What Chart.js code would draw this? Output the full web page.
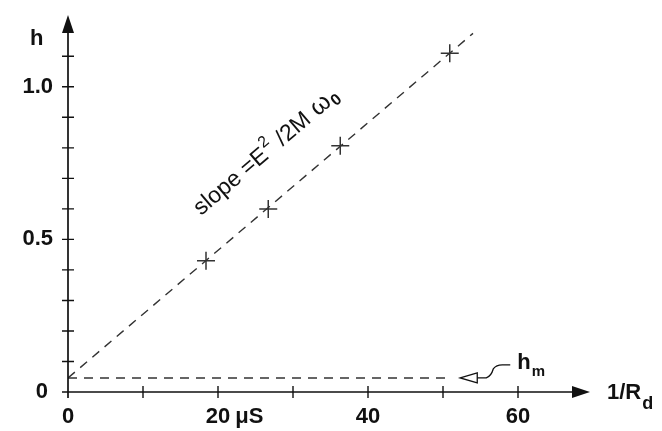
<!DOCTYPE html>
<html>
<head>
<meta charset="utf-8">
<script src="https://cdn.jsdelivr.net/npm/chart.js@4"></script>
<style>
  body { margin: 0; background: #fff; }
  canvas { display: block; }
</style>
</head>
<body>
<canvas id="chart" width="662" height="431"></canvas>
<script>
// measured points (1/Rd in µS, h)
var measX = [18.4, 26.7, 36.3, 50.9];
var measY = [0.43, 0.60, 0.807, 1.11];

// fitted straight line through the points
var fitX = [0, 54];
var fitY = [0.046, 1.175];

// h_m level
var hmX = [0, 51];
var hmY = [0.046, 0.046];

// axis ticks and labels
var xTicks = [10, 20, 30, 40, 50, 60];
var xLabelVals = [0, 20, 40, 60];
var xLabels = ["0", "20", "40", "60"];
var yTicks = [0.1, 0.2, 0.3, 0.4, 0.5, 0.6, 0.7, 0.8, 0.9, 1.0, 1.1];
var yLabelVals = [0, 0.5, 1.0];
var yLabels = ["0", "0.5", "1.0"];

function pts(xs, ys) {
    var out = [];
    for (var i = 0; i < xs.length; i++) out.push({ x: xs[i], y: ys[i] });
    return out;
}

var boldFont = 'bold 22px "Liberation Sans", Arial, sans-serif';
var ink = "#111";

// draws axes with arrows, ticks, labels and the annotations
var decor = {
    id: "decor",
    afterDraw: function (chart) {
        var ctx = chart.ctx;
        var xs = chart.scales.x, ys = chart.scales.y;
        var x0 = xs.getPixelForValue(0), y0 = ys.getPixelForValue(0);
        var xEnd = xs.getPixelForValue(69.6), yEnd = ys.getPixelForValue(1.235);
        ctx.save();
        ctx.strokeStyle = ink;
        ctx.fillStyle = ink;
        ctx.lineWidth = 1.7;

        // axis lines
        ctx.beginPath();
        ctx.moveTo(x0 - 6, y0); ctx.lineTo(xEnd - 10, y0);
        ctx.moveTo(x0, y0 + 6); ctx.lineTo(x0, yEnd + 10);
        ctx.stroke();
        // arrow heads
        ctx.beginPath();
        ctx.moveTo(xEnd, y0); ctx.lineTo(xEnd - 18, y0 - 6); ctx.lineTo(xEnd - 18, y0 + 6);
        ctx.closePath(); ctx.fill();
        ctx.beginPath();
        ctx.moveTo(x0, yEnd); ctx.lineTo(x0 - 6, yEnd + 18); ctx.lineTo(x0 + 6, yEnd + 18);
        ctx.closePath(); ctx.fill();

        // ticks
        ctx.lineWidth = 1.4;
        ctx.beginPath();
        xTicks.forEach(function (v) {
            var p = xs.getPixelForValue(v);
            ctx.moveTo(p, y0 - 6); ctx.lineTo(p, y0 + 6);
        });
        yTicks.forEach(function (v) {
            var p = ys.getPixelForValue(v);
            ctx.moveTo(x0 - 6, p); ctx.lineTo(x0 + 6, p);
        });
        ctx.stroke();

        // tick labels
        ctx.font = boldFont;
        ctx.textBaseline = "middle";
        ctx.textAlign = "center";
        xLabelVals.forEach(function (v, i) {
            ctx.fillText(xLabels[i], xs.getPixelForValue(v), y0 + 25);
        });
        // unit after the 20 label
        var p20 = xs.getPixelForValue(20);
        ctx.textAlign = "left";
        ctx.fillText("\u03bcS", p20 + ctx.measureText("20").width / 2 + 5, y0 + 25);
        ctx.textAlign = "right";
        yLabelVals.forEach(function (v, i) {
            ctx.fillText(yLabels[i], v === 0 ? x0 - 20 : x0 - 15, ys.getPixelForValue(v));
        });

        // axis titles
        ctx.textAlign = "left";
        ctx.fillText("h", 30, yEnd + 24);
        ctx.fillText("1/R", xEnd + 17, y0 + 1);
        var w = ctx.measureText("1/R").width;
        ctx.font = 'bold 18px "Liberation Sans", Arial, sans-serif';
        ctx.fillText("d", xEnd + 18 + w, y0 + 12);

        // h_m pointer: open triangle + leader
        var hx = xs.getPixelForValue(52.3), hy = ys.getPixelForValue(0.046);
        ctx.lineWidth = 1.3;
        ctx.fillStyle = "#fff";
        ctx.beginPath();
        ctx.moveTo(hx, hy); ctx.lineTo(hx + 17, hy - 5); ctx.lineTo(hx + 17, hy + 5);
        ctx.closePath(); ctx.fill(); ctx.stroke();
        ctx.beginPath();
        ctx.moveTo(hx + 17, hy);
        ctx.lineTo(hx + 26, hy);
        ctx.quadraticCurveTo(hx + 31, hy - 2, hx + 33, hy - 9);
        ctx.quadraticCurveTo(hx + 36, hy - 13, hx + 42, hy - 13);
        ctx.lineTo(hx + 50, hy - 13);
        ctx.stroke();
        ctx.fillStyle = ink;
        ctx.font = boldFont;
        ctx.fillText("h", hx + 57, hy - 15);
        var hw = ctx.measureText("h").width;
        ctx.font = 'bold 15px "Liberation Sans", Arial, sans-serif';
        ctx.fillText("m", hx + 58 + hw, hy - 6);

        // slope label, rotated along the fitted line
        var ax = xs.getPixelForValue(fitX[0]), ay = ys.getPixelForValue(fitY[0]);
        var bx = xs.getPixelForValue(fitX[1]), by = ys.getPixelForValue(fitY[1]);
        var ang = Math.atan2(by - ay, bx - ax);
        ctx.translate(201, 216);
        ctx.rotate(ang);
        var big = '23px "Liberation Sans", Arial, sans-serif';
        var small = '16px "Liberation Sans", Arial, sans-serif';
        var parts = [
            { t: "slope =E", f: big, dy: 0 },
            { t: "2", f: small, dy: -11 },
            { t: " /2M ", f: big, dy: 0 },
            { t: "\u03c9", f: '25px "Liberation Sans", Arial, sans-serif', dy: 0 },
            { t: "0", f: 'bold 16px "Liberation Sans", Arial, sans-serif', dy: 4 }
        ];
        var cx = 0;
        ctx.textBaseline = "alphabetic";
        parts.forEach(function (p) {
            ctx.font = p.f;
            ctx.fillText(p.t, cx, p.dy);
            cx += ctx.measureText(p.t).width + 1;
        });
        ctx.restore();
    }
};

new Chart(document.getElementById("chart"), {
    type: "scatter",
    data: {
        datasets: [{
            type: "line",
            data: pts(fitX, fitY),
            borderColor: "#333",
            borderWidth: 1.4,
            borderDash: [9, 7],
            pointRadius: 0,
            fill: false
        }, {
            type: "line",
            data: pts(hmX, hmY),
            borderColor: "#333",
            borderWidth: 1.4,
            borderDash: [9, 7],
            pointRadius: 0,
            fill: false
        }, {
            data: pts(measX, measY),
            pointStyle: "cross",
            pointRadius: 9,
            borderColor: "#333",
            borderWidth: 1.5
        }]
    },
    options: {
        responsive: false,
        animation: false,
        layout: { padding: { left: 68, right: 69, top: 9.5, bottom: 39 } },
        plugins: { legend: { display: false }, tooltip: { enabled: false } },
        scales: {
            x: { type: "linear", min: 0, max: 70, display: false },
            y: { type: "linear", min: 0, max: 1.25, display: false }
        }
    },
    plugins: [decor]
});
</script>
</body>
</html>
